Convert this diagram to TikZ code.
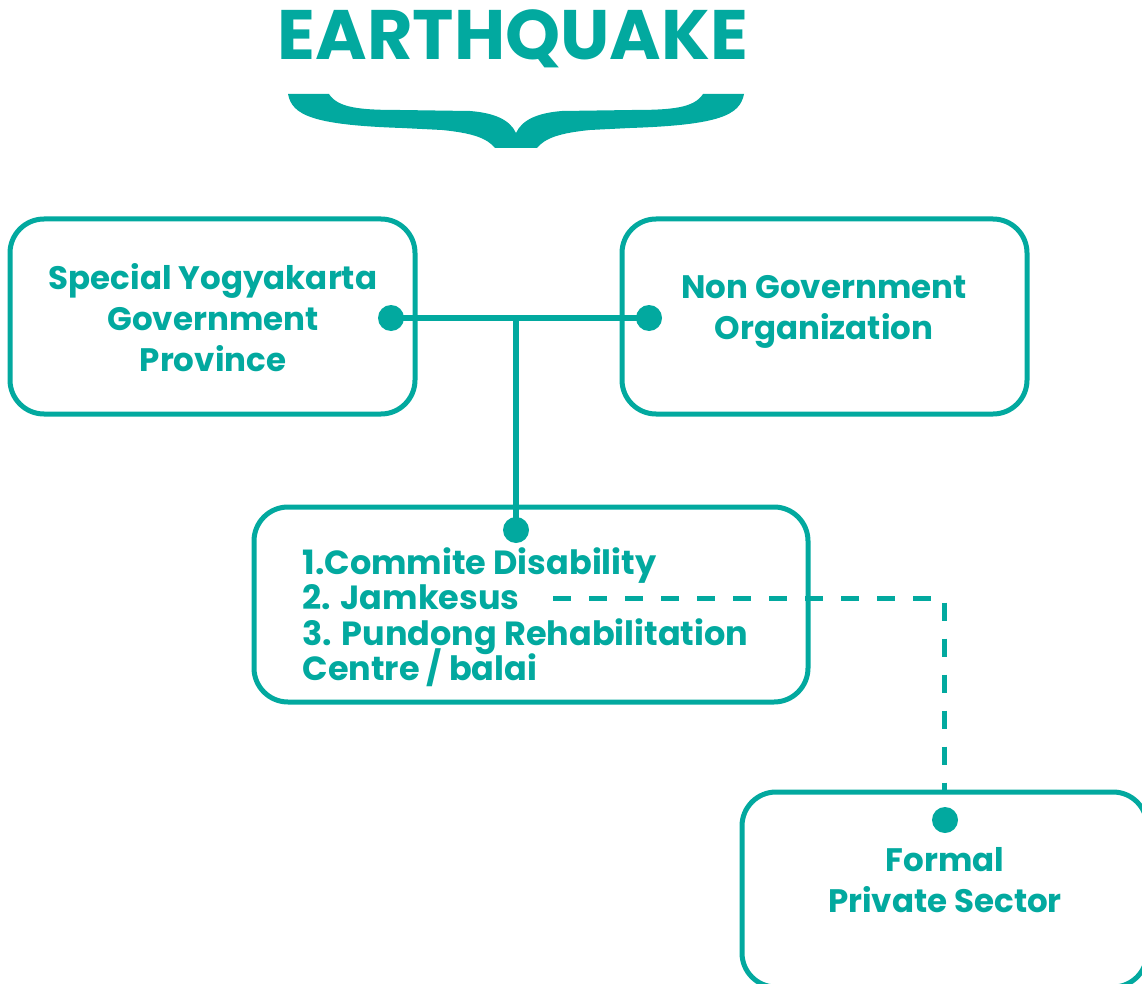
\documentclass[tikz,border=0pt]{standalone}
\usepackage{fontspec}
\setmainfont{Poppins}
\definecolor{teal1}{RGB}{2,169,159}
\newcommand\mytightlines{\lineskiplimit=-20pt\lineskip=0pt\relax}
\begin{document}
\begin{tikzpicture}[x=1pt,y=-1pt,
  box/.style={draw=teal1,line width=5pt,rounded corners=34pt,minimum width=405pt,minimum height=195pt,inner sep=0pt},
  lbl/.style={text=teal1,font=\fontsize{32.5}{41}\selectfont\bfseries\mytightlines,align=center},
  dot/.style={circle,fill=teal1,minimum size=26pt,inner sep=0pt},
  conn/.style={draw=teal1,line width=5.5pt},
  dconn/.style={draw=teal1,line width=5pt,dash pattern=on 18pt off 18pt}]
\useasboundingbox (0,0) rectangle (1142,984);
\clip (0,0) rectangle (1142,984);
% title
\node[text=teal1,font=\fontsize{70}{74}\selectfont\bfseries,inner sep=0pt] (title) at (513,39) {EARTHQUAKE};
% brace
\fill[teal1] (288,94) -- (329,94) .. controls (338,108) and (360,110) .. (400,110) -- (470,111)
  .. controls (495,113) and (510,120) .. (516,133)
  .. controls (522,120) and (537,113) .. (562,111) -- (632,110)
  .. controls (672,110) and (694,108) .. (703,94) -- (744,94)
  .. controls (740,115) and (720,125) .. (630,128) -- (590,130)
  .. controls (560,133) and (545,138) .. (537,148) -- (495,148)
  .. controls (487,138) and (472,133) .. (442,130) -- (402,128)
  .. controls (312,125) and (292,115) .. (288,94) -- cycle;
% boxes
\node[box] (b1) at (212.5,316.5) {};
\node[box] (b2) at (824.5,316.5) {};
\node[box,minimum width=554pt] (b3) at (531,604.5) {};
\node[box] (b4) at (944.5,889.5) {};
% labels
\node[lbl] (t1) at (213,318) {Special Yogyakarta\\Government\\Province};
\node[lbl] (t2) at (824,312) {Non Government\\Organization};
\node[lbl,align=left,anchor=west,font=\fontsize{33.5}{35.5}\selectfont\bfseries\mytightlines] (t3) at (299,617) {1.Commite Disability\\2. Jamkesus\\3. Pundong Rehabilitation\\Centre / balai};
\node[lbl] (t4) at (945,880) {Formal\\Private Sector};
% dots
\node[dot] (d1) at (391,318) {};
\node[dot] (d2) at (649,318) {};
\node[dot] (d3) at (516,530) {};
\node[dot] (d4) at (945,820) {};
\coordinate (ds) at (553,598);
% connectors
\draw[conn] (d1.center) -- (d2.center);
\draw[conn] (d3.center) -- (d3 |- d1);
\draw[dconn] (ds) -| (b4.north);
\end{tikzpicture}
\end{document}
